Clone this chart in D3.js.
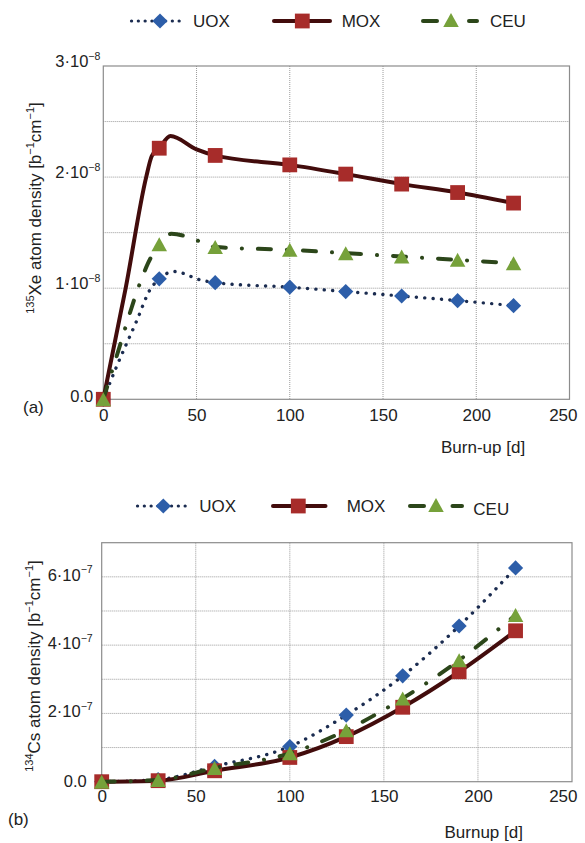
<!DOCTYPE html>
<html><head><meta charset="utf-8">
<script src="https://cdn.jsdelivr.net/npm/d3@7"></script>
<style>
body{margin:0;background:#fff}
svg{display:block}
text{font-family:"Liberation Sans",Arial,Helvetica,sans-serif;fill:#222}
</style>
</head><body>
<svg id="c" width="585" height="843"></svg>
<script>
// ---------- DATA ----------
const burnup = [0, 30, 60, 100, 130, 160, 190, 220];
const xTickValues = [0, 50, 100, 150, 200, 250];
const seriesNames = ["UOX", "MOX", "CEU"];

// Panel (a): 135Xe atom density, in units of 1e-8 b^-1 cm^-1
const xeUOX = [0, 1.084, 1.05, 1.009, 0.97, 0.93, 0.888, 0.843];
const xeMOX = [0, 2.26, 2.195, 2.11, 2.027, 1.937, 1.861, 1.766];
const xeCEU = [0, 1.395, 1.37, 1.345, 1.315, 1.285, 1.255, 1.225];
// extra points (shape between markers)
const xeUOXCurve = [[7, 0.29], [18, 0.71], [25, 0.985], [38, 1.15], [52, 1.075]];
const xeMOXCurve = [[12, 1.0], [23, 2.0], [26, 2.19], [36, 2.37], [50, 2.25]];
const xeCEUCurve = [[7, 0.38], [20, 1.06], [24, 1.225], [36.5, 1.49], [52, 1.42]];
const xeYTicks = [0, 1, 2, 3];
const xeYTickLabels = ["0.0", "1·10", "2·10", "3·10"];
const xeExponent = "−8";
const xeGrid = [0.5, 1, 1.5, 2, 2.5];

// Panel (b): 134Cs atom density, in units of 1e-7 b^-1 cm^-1
const csUOX = [0, 0.06, 0.45, 1.03, 1.95, 3.10, 4.56, 6.26];
const csMOX = [0, 0.03, 0.32, 0.71, 1.32, 2.18, 3.22, 4.42];
const csCEU = [0, 0.05, 0.40, 0.83, 1.51, 2.44, 3.56, 4.88];
const csYTicks = [0, 2, 4, 6];
const csYTickLabels = ["0.0", "2·10", "4·10", "6·10"];
const csExponent = "−7";
const csGrid = [1, 2, 3, 4, 5, 6];

// ---------- STYLE ----------
const styles = {
  UOX: {line: "#1b2c50", width: 3.4, dash: "0.1 8.3", cap: "round", fill: "#2d5ea9", marker: "diamond"},
  MOX: {line: "#420c0c", width: 4, dash: null, cap: "butt", fill: "#a72c2a", marker: "square"},
  CEU: {line: "#2c461a", width: 4, dash: "13 16 0.1 16", cap: "round", fill: "#76a13a", marker: "triangle"}
};

const svg = d3.select("#c");

function markerPath(type) {
  if (type === "diamond") { const r = 7.6; return `M0,${-r}L${r},0L0,${r}L${-r},0Z`; }
  if (type === "square") { const s = 7.4; return `M${-s},${-s}H${s}V${s}H${-s}Z`; }
  const w = 15.5, h = 14; return `M0,${-h/2}L${w/2},${h/2}L${-w/2},${h/2}Z`;
}

function drawPanel(p) {
  const g = svg.append("g");
  const x = d3.scaleLinear().domain([0, 250]).range([p.left, p.right]);
  const y = d3.scaleLinear().domain([0, p.ymax]).range([p.bottom, p.top]);

  // grid
  g.selectAll(".vg").data(xTickValues.filter(v => v > 0 && v < 250)).join("line")
    .attr("x1", d => x(d)).attr("x2", d => x(d)).attr("y1", p.top).attr("y2", p.bottom)
    .attr("stroke", "#9a9a9a").attr("stroke-width", 1).attr("stroke-dasharray", "1 1");
  g.selectAll(".hg").data(p.grid).join("line")
    .attr("x1", p.left).attr("x2", p.right).attr("y1", d => y(d)).attr("y2", d => y(d))
    .attr("stroke", "#9a9a9a").attr("stroke-width", 1).attr("stroke-dasharray", "1 1");
  // frame
  g.append("rect").attr("x", p.left).attr("y", p.top)
    .attr("width", p.right - p.left).attr("height", p.bottom - p.top)
    .attr("fill", "none").attr("stroke", "#8c8c8c").attr("stroke-width", 1.2);

  // x axis labels
  const ax = d3.axisBottom(x).tickValues(xTickValues).tickSize(0).tickPadding(p.xPad).tickFormat(d3.format("d"));
  const axg = g.append("g").attr("transform", `translate(0,${p.bottom})`).call(ax);
  axg.select(".domain").remove();
  axg.selectAll("text").attr("font-size", 17).attr("fill", "#222")
    .style("font-family", '"Liberation Sans",Arial,sans-serif')
    .filter(d => d === 250).attr("text-anchor", "end").attr("x", 577 - x(250));

  // y tick labels
  p.yTicks.forEach((v, i) => {
    const t = g.append("text").attr("font-size", 16.5).attr("text-anchor", "end")
      .attr("x", p.left - (v === 0 ? p.zeroGap : p.labelGap))
      .attr("y", y(v) + (v === 0 ? p.zeroDy : p.labelDy));
    t.append("tspan").text(p.yLabels[i]);
    if (v !== 0) t.append("tspan").attr("font-size", 10.5).attr("dy", -7.5).text(p.exp);
  });

  // axis titles
  const tt = g.append("text").attr("font-size", 17).attr("text-anchor", "middle")
    .attr("transform", `translate(${p.titleX},${p.titleY}) rotate(-90)`);
  tt.append("tspan").attr("font-size", 11).attr("dy", -7).text(p.iso);
  tt.append("tspan").attr("dy", 7).text(p.elem + " atom density [b");
  tt.append("tspan").attr("font-size", 11).attr("dy", -7).text("−1");
  tt.append("tspan").attr("dy", 7).text("cm");
  tt.append("tspan").attr("font-size", 11).attr("dy", -7).text("−1");
  tt.append("tspan").attr("dy", 7).text("]");

  g.append("text").attr("font-size", 17).attr("x", p.xTitleX).attr("y", p.xTitleY).text(p.xTitle);
  g.append("text").attr("font-size", 17).attr("x", p.tagX).attr("y", p.tagY).text(p.tag);

  // series
  const line = d3.line().x(d => x(d[0])).y(d => y(d[1])).curve(d3.curveMonotoneX);
  seriesNames.forEach((name, si) => {
    const st = styles[name];
    const vals = p.values[si];
    const pts = burnup.map((b, i) => [b, vals[i]]);
    const curvePts = pts.concat(p.curves ? p.curves[si] : []).sort((a, b) => a[0] - b[0]);
    g.append("path").attr("d", line(curvePts)).attr("fill", "none")
      .attr("stroke", st.line).attr("stroke-width", st.width)
      .attr("stroke-linecap", st.cap).attr("stroke-linejoin", "round")
      .attr("stroke-dasharray", st.dash);
    g.selectAll(".m" + name).data(pts).join("path")
      .attr("transform", d => `translate(${x(d[0])},${y(d[1])})`)
      .attr("d", markerPath(st.marker)).attr("fill", st.fill);
  });

  // legend
  const L = p.legend;
  const lg = g.append("g");
  // UOX
  lg.append("line").attr("x1", L.uox[0]).attr("x2", L.uox[1]).attr("y1", L.y).attr("y2", L.y)
    .attr("stroke", styles.UOX.line).attr("stroke-width", 3.2).attr("stroke-linecap", "round")
    .attr("stroke-dasharray", "0.1 6.7");
  lg.append("path").attr("transform", `translate(${L.uox[2]},${L.y})`).attr("d", markerPath("diamond")).attr("fill", styles.UOX.fill);
  lg.append("text").attr("font-size", 17).attr("x", L.uox[3]).attr("y", L.ty).text("UOX");
  // MOX
  lg.append("line").attr("x1", L.mox[0]).attr("x2", L.mox[1]).attr("y1", L.y).attr("y2", L.y)
    .attr("stroke", styles.MOX.line).attr("stroke-width", 4).attr("stroke-linecap", "round");
  lg.append("path").attr("transform", `translate(${L.mox[2]},${L.y})`).attr("d", markerPath("square")).attr("fill", styles.MOX.fill);
  lg.append("text").attr("font-size", 17).attr("x", L.mox[3]).attr("y", L.ty).text("MOX");
  // CEU
  [[L.ceu[0], L.ceu[1]], [L.ceu[3], L.ceu[4]]].forEach(s => {
    lg.append("line").attr("x1", s[0]).attr("x2", s[1]).attr("y1", L.y).attr("y2", L.y)
      .attr("stroke", styles.CEU.line).attr("stroke-width", 4).attr("stroke-linecap", "round");
  });
  lg.append("path").attr("transform", `translate(${L.ceu[2]},${L.y - 1})`).attr("d", markerPath("triangle")).attr("fill", styles.CEU.fill);
  lg.append("text").attr("font-size", 17).attr("x", L.ceu[5]).attr("y", L.ty + L.ceuDy).text("CEU");
}

drawPanel({
  left: 103.3, right: 569.5, top: 66, bottom: 399.3, ymax: 3,
  grid: xeGrid, yTicks: xeYTicks, yLabels: xeYTickLabels, exp: xeExponent,
  labelGap: 3, zeroGap: 10, labelDy: 1, zeroDy: 2.5, xPad: 9.5,
  values: [xeUOX, xeMOX, xeCEU], curves: [xeUOXCurve, xeMOXCurve, xeCEUCurve],
  iso: "135", elem: "Xe", titleX: 41, titleY: 208,
  xTitle: "Burn-up [d]", xTitleX: 441, xTitleY: 453,
  tag: "(a)", tagX: 23, tagY: 413,
  legend: {y: 21, ty: 27, ceuDy: 0,
    uox: [131.5, 182.5, 160, 193], mox: [274, 330, 302.3, 341.7],
    ceu: [423, 437, 451, 469, 477, 490]}
});

drawPanel({
  left: 101.7, right: 572, top: 542.7, bottom: 781.7, ymax: 7,
  grid: csGrid, yTicks: csYTicks, yLabels: csYTickLabels, exp: csExponent,
  labelGap: 9, zeroGap: 15, labelDy: 4, zeroDy: 5, xPad: 8.5,
  values: [csUOX, csMOX, csCEU], curves: null,
  iso: "134", elem: "Cs", titleX: 40, titleY: 666,
  xTitle: "Burnup [d]", xTitleX: 444.5, xTitleY: 838,
  tag: "(b)", tagX: 8, tagY: 825,
  legend: {y: 506, ty: 512, ceuDy: 3,
    uox: [137.5, 186.5, 163.3, 199.3], mox: [273, 325.5, 298.3, 346.7],
    ceu: [410, 424, 436, 452.5, 462, 473.3]}
});
</script>
</body></html>
